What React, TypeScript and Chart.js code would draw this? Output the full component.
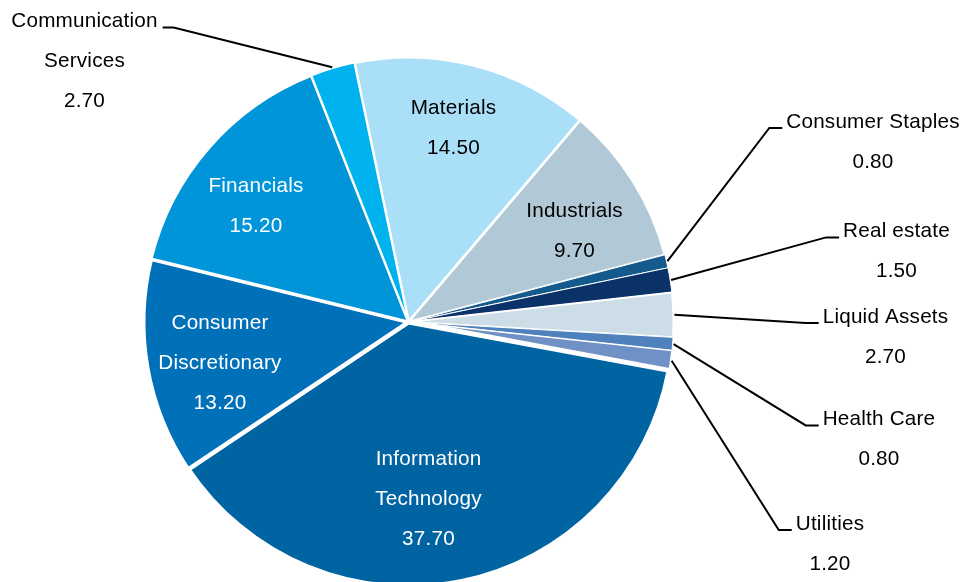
import { useEffect, useRef } from "react";
import { Chart, PieController, ArcElement } from "chart.js";

Chart.register(PieController, ArcElement);

// ---- data ----
const categories = [
  "Materials",
  "Industrials",
  "Consumer Staples",
  "Real estate",
  "Liquid Assets",
  "Health Care",
  "Utilities",
  "Information Technology",
  "Consumer Discretionary",
  "Financials",
  "Communication Services",
];
const weights = [14.5, 9.7, 0.8, 1.5, 2.7, 0.8, 1.2, 37.7, 13.2, 15.2, 2.7];
const labelLines = [
  ["Materials"],
  ["Industrials"],
  ["Consumer Staples"],
  ["Real estate"],
  ["Liquid Assets"],
  ["Health Care"],
  ["Utilities"],
  ["Information", "Technology"],
  ["Consumer", "Discretionary"],
  ["Financials"],
  ["Communication", "Services"],
];

// ---- styles ----
const sliceColors = [
  "#a9dff7",
  "#b1c8d6",
  "#145a8d",
  "#0a3168",
  "#cddde8",
  "#4f81bd",
  "#6f91c5",
  "#0063a2",
  "#0070b8",
  "#0095d8",
  "#00b3ef",
];
const sliceBorders = [3, 2.5, 1, 1, 2, 1, 1.5, 5, 4, 3, 2];

// label layout: centre x / first-line cap-centre y, colour, callout side
const labelLayout = [
  { x: 453.5, y: 106.5, color: "#000", side: "" },
  { x: 574.5, y: 210, color: "#000", side: "" },
  { x: 873, y: 120.5, color: "#000", side: "right" },
  { x: 896.5, y: 230, color: "#000", side: "right" },
  { x: 885.5, y: 315.5, color: "#000", side: "right" },
  { x: 879, y: 418, color: "#000", side: "right" },
  { x: 830, y: 522.5, color: "#000", side: "right" },
  { x: 428.5, y: 458, color: "#fff", side: "" },
  { x: 220, y: 321.5, color: "#fff", side: "" },
  { x: 256, y: 185, color: "#fff", side: "" },
  { x: 84.5, y: 20, color: "#000", side: "left" },
];

const FONT_SIZE = 20.7;
const LINE_GAP = 40;
const CAP_OFFSET = FONT_SIZE * 0.358;

const labelPlugin = {
  id: "sectorLabels",
  afterDatasetsDraw(chart: any) {
    const ctx = chart.ctx as CanvasRenderingContext2D;
    const meta = chart.getDatasetMeta(0);
    ctx.save();
    ctx.font = `${FONT_SIZE}px "Liberation Sans", Arial, sans-serif`;
    (ctx as any).letterSpacing = "0.2px";
    ctx.textAlign = "center";
    ctx.textBaseline = "alphabetic";
    ctx.strokeStyle = "#000";
    ctx.lineWidth = 2;
    meta.data.forEach((arc: any, i: number) => {
      const lay = labelLayout[i];
      const lines = [...labelLines[i], weights[i].toFixed(2)];
      ctx.fillStyle = lay.color;
      lines.forEach((t, k) => ctx.fillText(t, lay.x, lay.y + k * LINE_GAP + CAP_OFFSET));
      if (lay.side) {
        const p = arc.getProps(["x", "y", "startAngle", "endAngle", "outerRadius"], true);
        const mid = (p.startAngle + p.endAngle) / 2;
        const r = p.outerRadius + 1;
        const sx = p.x + Math.cos(mid) * r;
        const sy = p.y + Math.sin(mid) * r;
        const w = ctx.measureText(lines[0]).width;
        const baseY = lay.y + CAP_OFFSET;
        let ex: number, hx: number;
        if (lay.side === "right") {
          const left = lay.x - w / 2;
          hx = left - 4;
          ex = left - 17;
        } else {
          const right = lay.x + w / 2;
          hx = right + 5;
          ex = right + 16;
        }
        ctx.beginPath();
        ctx.moveTo(sx, sy);
        ctx.lineTo(ex, baseY);
        ctx.lineTo(hx, baseY);
        ctx.stroke();
      }
    });
    ctx.restore();
  },
};

export default function App() {
  const ref = useRef<HTMLCanvasElement | null>(null);
  useEffect(() => {
    document.body.style.margin = "0";
    const chart = new Chart(ref.current as HTMLCanvasElement, {
      type: "pie",
      data: {
        labels: categories,
        datasets: [
          {
            data: weights,
            backgroundColor: sliceColors,
            borderColor: "#ffffff",
            borderWidth: sliceBorders,
          },
        ],
      },
      options: {
        animation: false,
        responsive: false,
        devicePixelRatio: 1,
        rotation: -11.8,
        radius: 265,
        layout: { padding: { left: 0, right: 154, top: 0, bottom: 0 } },
        plugins: {
          legend: { display: false },
          tooltip: { enabled: false },
        },
        events: [],
      } as any,
      plugins: [labelPlugin],
    });
    return () => chart.destroy();
  }, []);
  return (
    <div
      style={{
        position: "fixed",
        left: 0,
        top: 0,
        width: 971,
        height: 582,
        overflow: "hidden",
        background: "#fff",
      }}
    >
      <canvas ref={ref} width={971} height={644} style={{ display: "block" }} />
    </div>
  );
}
